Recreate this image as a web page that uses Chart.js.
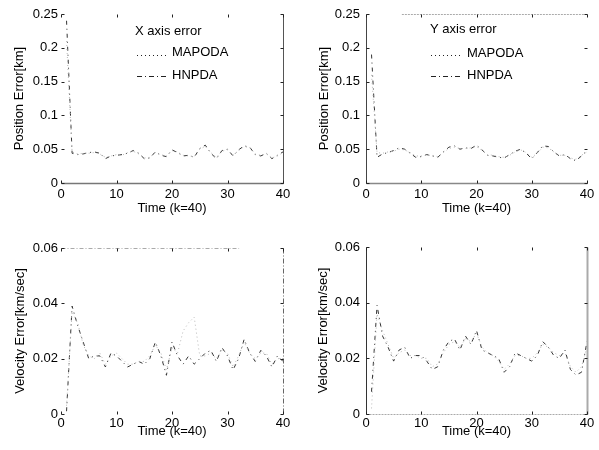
<!DOCTYPE html>
<html><head><meta charset="utf-8">
<script src="https://cdn.jsdelivr.net/npm/chart.js@4"></script>
<style>
html,body{margin:0;padding:0;background:#fff;}
#wrap{position:relative;width:599px;height:450px;overflow:hidden;background:#fff}
.c{position:absolute;width:300px;height:225px}
canvas{display:block}
</style></head><body>
<div id="wrap">
<div class="c" style="left:0;top:0"><canvas id="c1" width="300" height="225"></canvas></div>
<div class="c" style="left:300px;top:0"><canvas id="c2" width="300" height="225"></canvas></div>
<div class="c" style="left:0;top:225px"><canvas id="c3" width="300" height="225"></canvas></div>
<div class="c" style="left:300px;top:225px"><canvas id="c4" width="300" height="225"></canvas></div>
</div>
<script>
// ---- data ----
const K = [1,2,3,4,5,6,7,8,9,10,11,12,13,14,15,16,17,18,19,20,21,22,23,24,25,26,27,28,29,30,31,32,33,34,35,36,37,38,39,40];
const timeTicks = [0,10,20,30,40];
const posTicks = [0,0.05,0.1,0.15,0.2,0.25];
const velTicks = [0,0.02,0.04,0.06];

const posX_HNPDA = [0.24,0.044,0.042,0.043,0.045,0.046,0.044,0.036,0.040,0.041,0.042,0.044,0.048,0.044,0.036,0.037,0.046,0.041,0.039,0.049,0.045,0.040,0.041,0.038,0.051,0.056,0.044,0.036,0.048,0.050,0.040,0.049,0.055,0.053,0.042,0.040,0.044,0.036,0.041,0.046];
const posX_MAPODA = [0.21,0.046,0.043,0.044,0.044,0.045,0.043,0.038,0.040,0.042,0.041,0.045,0.047,0.043,0.037,0.038,0.045,0.042,0.040,0.048,0.046,0.041,0.040,0.039,0.050,0.054,0.045,0.038,0.047,0.049,0.041,0.048,0.054,0.052,0.043,0.041,0.043,0.037,0.040,0.045];
const posY_HNPDA = [0.19,0.038,0.043,0.045,0.048,0.052,0.050,0.044,0.038,0.039,0.042,0.040,0.038,0.046,0.053,0.055,0.050,0.052,0.051,0.056,0.049,0.041,0.040,0.038,0.037,0.042,0.047,0.050,0.044,0.036,0.045,0.055,0.054,0.046,0.040,0.042,0.036,0.033,0.040,0.048];
const posY_MAPODA = [0.16,0.045,0.044,0.046,0.047,0.050,0.049,0.045,0.040,0.040,0.041,0.041,0.039,0.045,0.051,0.053,0.051,0.051,0.052,0.054,0.048,0.042,0.041,0.039,0.038,0.041,0.046,0.049,0.045,0.038,0.044,0.053,0.052,0.046,0.041,0.041,0.037,0.035,0.041,0.046];
const velX_HNPDA = [0.001,0.039,0.032,0.026,0.020,0.021,0.021,0.017,0.022,0.021,0.019,0.017,0.018,0.019,0.018,0.020,0.026,0.021,0.014,0.026,0.021,0.018,0.021,0.018,0.020,0.022,0.023,0.019,0.024,0.021,0.016,0.020,0.027,0.022,0.019,0.023,0.021,0.017,0.021,0.019];
const velX_MAPODA = [0.003,0.037,0.033,0.025,0.021,0.020,0.022,0.018,0.021,0.022,0.020,0.018,0.018,0.019,0.019,0.021,0.025,0.022,0.016,0.024,0.022,0.030,0.033,0.035,0.021,0.021,0.022,0.020,0.023,0.022,0.017,0.021,0.026,0.022,0.020,0.022,0.022,0.018,0.020,0.020];
const velY_HNPDA = [0.008,0.039,0.028,0.024,0.019,0.023,0.024,0.020,0.021,0.021,0.019,0.016,0.017,0.023,0.026,0.027,0.023,0.028,0.025,0.030,0.023,0.022,0.021,0.020,0.015,0.017,0.022,0.021,0.020,0.019,0.021,0.026,0.024,0.021,0.020,0.023,0.016,0.014,0.015,0.026];
const velY_MAPODA = [0.002,0.036,0.030,0.025,0.020,0.022,0.023,0.021,0.021,0.020,0.020,0.017,0.018,0.022,0.025,0.026,0.024,0.027,0.026,0.029,0.024,0.022,0.021,0.019,0.016,0.018,0.021,0.021,0.020,0.020,0.022,0.025,0.024,0.022,0.021,0.022,0.017,0.015,0.017,0.024];

// ---- styling ----
const FONT = '"Liberation Sans", Arial, Helvetica, sans-serif';
const TXT = '#000';
const DASH_MAPODA = [1, 3];
const DASH_HNPDA = [4, 4, 1, 4];

const framePlugin = {
  id: 'frame',
  afterDatasetsDraw(chart, args, opts) {
    const ctx = chart.ctx, a = chart.chartArea;
    const xs = chart.scales.x, ys = chart.scales.y;
    ctx.save();
    const L = Math.round(a.left) + 0.5, R = Math.round(a.right) + 0.5;
    const T = Math.round(a.top) + 0.5, B = Math.round(a.bottom) + 0.5;
    const side = (st, x0, y0, x1, y1) => {
      if (!st) return;
      const f0 = st.from || 0, f1 = st.to === undefined ? 1 : st.to;
      ctx.beginPath();
      ctx.strokeStyle = st.c; ctx.lineWidth = st.w || 1;
      ctx.setLineDash(st.d || []);
      ctx.moveTo(x0 + (x1 - x0) * f0, y0 + (y1 - y0) * f0);
      ctx.lineTo(x0 + (x1 - x0) * f1, y0 + (y1 - y0) * f1);
      ctx.stroke();
    };
    const b = opts.borders;
    side(b.top, L, T, R, T);
    side(b.bottom, L, B, R, B);
    side(b.left, L, T, L, B);
    side(b.right, R, T, R, B);
    // inward ticks
    ctx.setLineDash([]);
    ctx.strokeStyle = '#222'; ctx.lineWidth = 1;
    const tl = 3;
    xs.ticks.forEach(t => {
      const p = Math.round(xs.getPixelForValue(t.value)) + 0.5;
      ctx.beginPath(); ctx.moveTo(p, B); ctx.lineTo(p, B - tl); ctx.stroke();
      ctx.beginPath(); ctx.moveTo(p, T); ctx.lineTo(p, T + tl); ctx.stroke();
    });
    ys.ticks.forEach(t => {
      const p = Math.round(ys.getPixelForValue(t.value)) + 0.5;
      ctx.beginPath(); ctx.moveTo(L, p); ctx.lineTo(L + tl, p); ctx.stroke();
      ctx.beginPath(); ctx.moveTo(R, p); ctx.lineTo(R - tl, p); ctx.stroke();
    });
    // legend
    const lg = opts.legend;
    if (lg) {
      ctx.font = '13px ' + FONT;
      ctx.fillStyle = TXT;
      ctx.textBaseline = 'middle';
      ctx.textAlign = 'left';
      ctx.fillText(lg.title, lg.x, lg.ty);
      const sampleDash = [[1, 3], [5, 3, 1, 3]];
      chart.data.datasets.forEach((ds, i) => {
        const it = lg.items[i];
        ctx.beginPath();
        ctx.strokeStyle = '#222'; ctx.lineWidth = 1;
        ctx.setLineDash(sampleDash[i]);
        ctx.moveTo(lg.sx0, it.sy + 0.5); ctx.lineTo(lg.sx1, it.sy + 0.5); ctx.stroke();
        ctx.setLineDash([]);
        ctx.fillText(ds.label, lg.tx, it.ty);
      });
    }
    ctx.restore();
  }
};

function makeChart(id, hn, ma, yTicks, yMax, yTitle, L) {
  const font = {family: FONT, size: 13};
  return new Chart(document.getElementById(id), {
    type: 'line',
    data: {
      datasets: [
        {label: 'MAPODA', data: K.map((k, i) => ({x: k, y: ma[i]})), borderColor: '#b8b8b8', borderWidth: 1, borderDash: DASH_MAPODA, pointRadius: 0, tension: 0, fill: false},
        {label: 'HNPDA', data: K.map((k, i) => ({x: k, y: hn[i]})), borderColor: '#333', borderWidth: 1, borderDash: DASH_HNPDA, pointRadius: 0, tension: 0, fill: false}
      ]
    },
    options: {
      responsive: false, animation: false, events: [],
      layout: {padding: {top: L.padTop, right: L.padRight, left: 0, bottom: 0}},
      plugins: {legend: {display: false}, tooltip: {enabled: false}, frame: {borders: L.borders, legend: L.legend}},
      scales: {
        x: {
          type: 'linear', min: 0, max: 40,
          afterBuildTicks: s => { s.ticks = timeTicks.map(v => ({value: v})); },
          afterFit: s => { s.height = L.xHeight; },
          grid: {display: false, drawTicks: false}, border: {display: false},
          ticks: {padding: L.xTickPad, color: TXT, font, maxRotation: 0, autoSkip: false},
          title: {display: true, text: 'Time (k=40)', color: TXT, font, padding: {top: 0, bottom: L.xTitlePad}}
        },
        y: {
          type: 'linear', min: 0, max: yMax,
          afterBuildTicks: s => { s.ticks = yTicks.map(v => ({value: v})); },
          afterFit: s => { s.width = L.yWidth; },
          grid: {display: false, drawTicks: false}, border: {display: false},
          ticks: {padding: L.yTickPad, color: TXT, font, autoSkip: false, callback: v => String(+(+v).toFixed(4))},
          title: {display: true, text: yTitle, color: TXT, font, padding: {top: L.yTitlePad, bottom: 0}}
        }
      }
    },
    plugins: [framePlugin]
  });
}

makeChart('c1', posX_HNPDA, posX_MAPODA, posTicks, 0.25, 'Position Error[km]', {
  padTop: 14, padRight: 17, yWidth: 61, xHeight: 42, xTickPad: 4, xTitlePad: 9, yTickPad: 3, yTitlePad: 12,
  borders: {bottom: {c: '#777', w: 1.5}, right: {c: '#555'}},
  legend: {title: 'X axis error', x: 135, ty: 31, sx0: 137, sx1: 168, tx: 172,
           items: [{sy: 55, ty: 52}, {sy: 76, ty: 75}]}
});
makeChart('c2', posY_HNPDA, posY_MAPODA, posTicks, 0.25, 'Position Error[km]', {
  padTop: 14, padRight: 13, yWidth: 66, xHeight: 42, xTickPad: 4, xTitlePad: 9, yTickPad: 6, yTitlePad: 17,
  borders: {left: {c: '#444'}, bottom: {c: '#888', w: 1.5}, top: {c: '#aaa', d: [2, 1], from: 0.16}},
  legend: {title: 'Y axis error', x: 130, ty: 29, sx0: 131, sx1: 162, tx: 167,
           items: [{sy: 55, ty: 53}, {sy: 76, ty: 75}]}
});
makeChart('c3', velX_HNPDA, velX_MAPODA, velTicks, 0.06, 'Velocity Error[km/sec]', {
  padTop: 23, padRight: 17, yWidth: 61, xHeight: 36, xTickPad: 2, xTitlePad: 11, yTickPad: 3, yTitlePad: 13,
  borders: {top: {c: '#aaa', d: [4, 2, 1, 2], to: 0.8}, right: {c: '#666', d: [5, 2, 1, 2]}},
  legend: null
});
makeChart('c4', velY_HNPDA, velY_MAPODA, velTicks, 0.06, 'Velocity Error[km/sec]', {
  padTop: 22, padRight: 13, yWidth: 66, xHeight: 36, xTickPad: 2, xTitlePad: 11, yTickPad: 6, yTitlePad: 16,
  borders: {left: {c: '#333'}, bottom: {c: '#aaa', d: [2, 1]}, right: {c: '#aaa', w: 2}},
  legend: null
});
</script>
</body></html>
